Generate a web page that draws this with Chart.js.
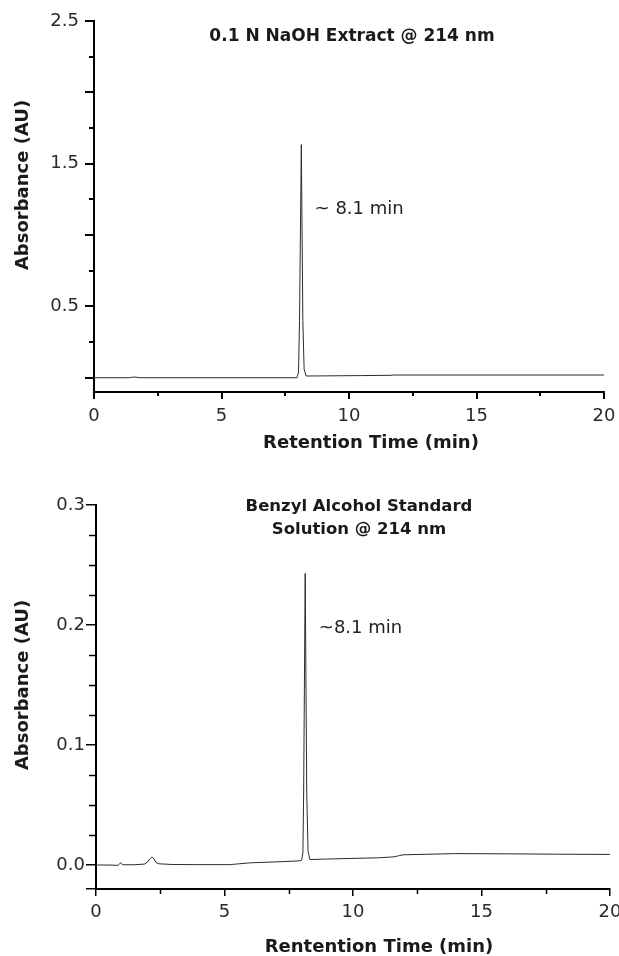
<!DOCTYPE html>
<html><head><meta charset="utf-8">
<script src="https://cdn.jsdelivr.net/npm/chart.js@4"></script>
<style>
html,body{margin:0;padding:0;background:#fff;}
#wrap{position:relative;width:619px;height:956px;overflow:hidden;}
canvas{position:absolute;left:0;}
</style></head><body>
<div id="wrap">
<canvas id="c1" width="619" height="465" style="top:0;width:619px;height:465px"></canvas>
<canvas id="c2" width="619" height="491" style="top:465px;width:619px;height:491px"></canvas>
</div>
<script>
// ---------- DATA ----------
// Top chromatogram: 0.1 N NaOH Extract @ 214 nm
const topTime = [0, 1.4, 1.55, 1.65, 1.8, 4.0, 7.96, 8.02, 8.06, 8.13, 8.19, 8.24, 8.32, 9.0, 10.5, 11.65, 11.75, 20];
const topAbs  = [0, 0, 0.005, 0.004, 0, 0, 0, 0.04, 0.4, 1.634, 0.4, 0.06, 0.012, 0.013, 0.015, 0.017, 0.019, 0.019];
// Bottom chromatogram: Benzyl Alcohol Standard Solution @ 214 nm
const botTime = [0, 0.5, 0.85, 0.9, 0.96, 1.02, 1.1, 1.5, 1.9, 2.0, 2.1, 2.18, 2.26, 2.35, 2.45, 3.0, 4.0, 5.2, 6.0, 7.0, 7.9, 8.0, 8.05, 8.08, 8.14, 8.20, 8.25, 8.32, 9.0, 10.0, 11.0, 11.6, 11.8, 11.95, 13.0, 14.0, 16.0, 18.0, 20.0];
const botAbs  = [0, 0, -0.0003, 0.0005, 0.0019, 0.0004, 0.0002, 0.0002, 0.0008, 0.0025, 0.0052, 0.0067, 0.005, 0.0018, 0.001, 0.0004, 0.0003, 0.0003, 0.0018, 0.0026, 0.0034, 0.004, 0.01, 0.06, 0.243, 0.06, 0.012, 0.0045, 0.005, 0.0055, 0.006, 0.0068, 0.0078, 0.0085, 0.009, 0.0095, 0.0093, 0.009, 0.0088];

// Tick values and labels
const xMajorTicks = [0, 5, 10, 15, 20];
const xMinorTicks = [2.5, 7.5, 12.5, 17.5];
const topYMajorTicks = [0, 0.5, 1.0, 1.5, 2.0, 2.5];
const topYMinorTicks = [0.25, 0.75, 1.25, 1.75, 2.25];
const topYLabels = [0.5, 1.5, 2.5];
const botYMajorTicks = [-0.02, 0, 0.1, 0.2, 0.3];
const botYMinorTicks = [0.025, 0.05, 0.075, 0.125, 0.15, 0.175, 0.225, 0.25, 0.275];
const botYLabels = [0, 0.1, 0.2, 0.3];

// Texts
const topTitle = ['0.1 N NaOH Extract @ 214 nm'];
const botTitle = ['Benzyl Alcohol Standard', 'Solution @ 214 nm'];
const topXTitle = 'Retention Time (min)';
const botXTitle = 'Rentention Time (min)';
const yTitle = 'Absorbance (AU)';
const topAnnot = { text: '~ 8.1 min', x: 8.65, y: 1.18 };
const botAnnot = { text: '~8.1 min', x: 8.67, y: 0.197 };

// ---------- RENDERING ----------
const FAMILY = '"DejaVu Sans", Verdana, sans-serif';
const NORMAL = '18px ' + FAMILY;
const AXIS_BOLD = 'bold 18px ' + FAMILY;

function near(list, v){ return list.some(t => Math.abs(t - v) < 1e-9); }

function textPlugin(c){
  return {
    id: 'texts',
    afterDraw(chart){
      const ctx = chart.ctx, a = chart.chartArea, xs = chart.scales.x, ys = chart.scales.y;
      ctx.save();
      ctx.strokeStyle = '#000';
      ctx.lineWidth = c.minorWidth;
      c.yMinor.forEach(v => {
        const p = Math.round(ys.getPixelForValue(v)) + (c.minorWidth % 2 ? 0.5 : 0);
        ctx.beginPath(); ctx.moveTo(a.left - c.yMinorLen, p); ctx.lineTo(a.left, p); ctx.stroke();
      });
      c.xMinor.forEach(v => {
        const p = Math.round(xs.getPixelForValue(v)) + (c.minorWidth % 2 ? 0.5 : 0);
        ctx.beginPath(); ctx.moveTo(p, a.bottom); ctx.lineTo(p, a.bottom + c.xMinorLen); ctx.stroke();
      });
      ctx.fillStyle = '#1a1a1a';
      ctx.textAlign = 'center';
      ctx.textBaseline = 'middle';
      ctx.font = c.titleFont;
      c.title.forEach((t, i) => ctx.fillText(t, c.titleX, c.titleY + i * c.titleLH));
      ctx.font = AXIS_BOLD;
      ctx.fillText(c.xTitle, c.xTitleX, c.xTitleY);
      ctx.save();
      ctx.translate(c.yTitleX, c.yTitleY);
      ctx.rotate(-Math.PI / 2);
      ctx.fillText(c.yTitle, 0, 0);
      ctx.restore();
      ctx.font = NORMAL;
      ctx.fillStyle = '#222';
      ctx.textAlign = 'left';
      ctx.fillText(c.annot.text, xs.getPixelForValue(c.annot.x), ys.getPixelForValue(c.annot.y));
      ctx.restore();
    }
  };
}

function makeChart(id, o){
  const pts = o.time.map((t, i) => ({ x: t, y: o.abs[i] }));
  return new Chart(document.getElementById(id), {
    type: 'line',
    data: { datasets: [{ data: pts, borderColor: '#2b2b2b', borderWidth: 1, pointRadius: 0, tension: 0, fill: false }] },
    options: {
      responsive: false,
      animation: false,
      devicePixelRatio: 1,
      parsing: false,
      layout: { autoPadding: false, padding: o.padding },
      plugins: { legend: { display: false }, tooltip: { enabled: false }, title: { display: false } },
      scales: {
        x: {
          type: 'linear', min: 0, max: 20,
          afterBuildTicks: s => { s.ticks = xMajorTicks.map(v => ({ value: v })); },
          afterFit: s => { s.height = o.xAxisH; s.paddingLeft = 0; s.paddingRight = 0; },
          ticks: { font: { family: FAMILY, size: 18 }, color: '#2a2a2a', padding: o.xPad, maxRotation: 0, autoSkip: false,
                   callback: v => String(v) },
          grid: { drawOnChartArea: false, drawTicks: true, tickLength: 7, tickColor: '#000', tickWidth: o.tickW, lineWidth: o.tickW },
          border: { display: true, color: '#000', width: 2 }
        },
        y: {
          type: 'linear', min: o.yMin, max: o.yMax,
          afterBuildTicks: s => { s.ticks = o.yMajor.map(v => ({ value: v })); },
          afterFit: s => { s.width = o.yAxisW; s.paddingTop = 0; s.paddingBottom = 0; },
          ticks: { font: { family: FAMILY, size: 18 }, color: '#2a2a2a', padding: o.yPad, autoSkip: false,
                   callback: v => near(o.yLabels, v) ? Number(v).toFixed(1) : '' },
          grid: { drawOnChartArea: false, drawTicks: true, tickLength: o.yTickLen, tickColor: '#000', tickWidth: o.tickW, lineWidth: o.tickW },
          border: { display: true, color: '#000', width: 2 }
        }
      }
    },
    plugins: [textPlugin(o.txt)]
  });
}

makeChart('c1', {
  time: topTime, abs: topAbs, yMin: -0.1, yMax: 2.5,
  yMajor: topYMajorTicks, yLabels: topYLabels,
  padding: { top: 21, right: 15, left: 0, bottom: 0 },
  xAxisH: 73, yAxisW: 94, xPad: 7, yPad: 6, yTickLen: 9, tickW: 2,
  txt: { yMinor: topYMinorTicks, xMinor: xMinorTicks, yMinorLen: 5, xMinorLen: 4, minorWidth: 2,
         title: topTitle, titleFont: 'bold 17px ' + FAMILY, titleX: 352, titleY: 37, titleLH: 23,
         xTitle: topXTitle, xTitleX: 371, xTitleY: 443,
         yTitle: yTitle, yTitleX: 23, yTitleY: 185, annot: topAnnot }
});

makeChart('c2', {
  time: botTime, abs: botAbs, yMin: -0.02, yMax: 0.3,
  yMajor: botYMajorTicks, yLabels: botYLabels,
  padding: { top: 40, right: 9, left: 0, bottom: 0 },
  xAxisH: 67, yAxisW: 96, xPad: 6, yPad: 1, yTickLen: 10, tickW: 1.5,
  txt: { yMinor: botYMinorTicks, xMinor: xMinorTicks, yMinorLen: 7, xMinorLen: 5, minorWidth: 1.5,
         title: botTitle, titleFont: 'bold 16.5px ' + FAMILY, titleX: 359, titleY: 42, titleLH: 23,
         xTitle: botXTitle, xTitleX: 379, xTitleY: 482,
         yTitle: yTitle, yTitleX: 23, yTitleY: 220, annot: botAnnot }
});
</script>
</body></html>
